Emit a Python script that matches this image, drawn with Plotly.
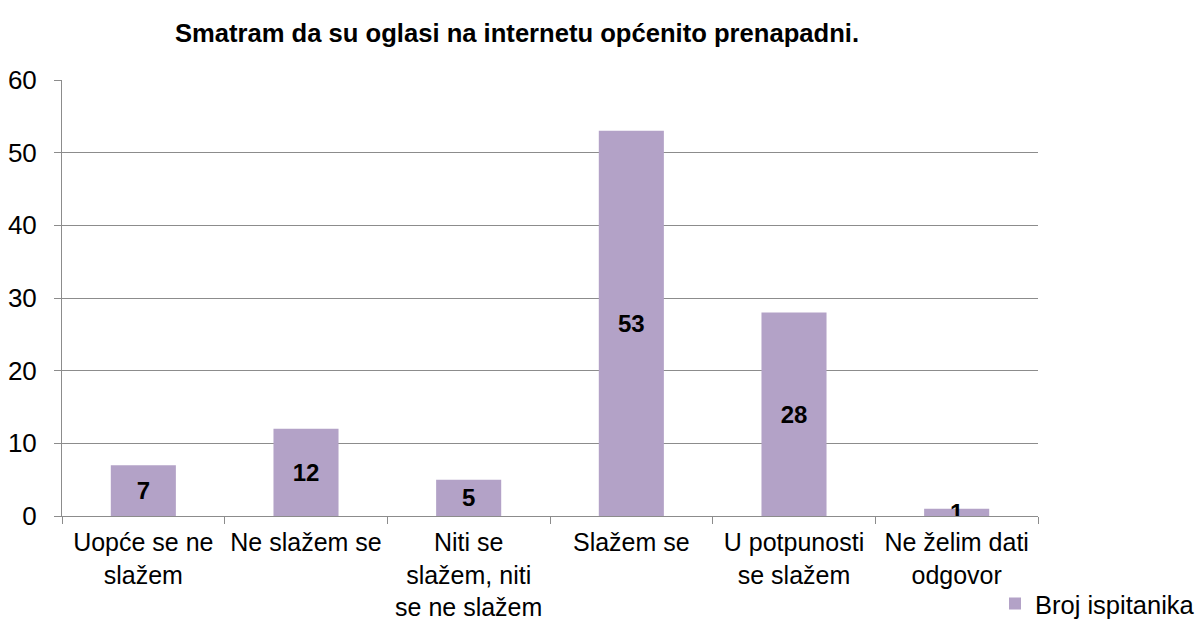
import plotly.graph_objects as go

kategorije = [
    "Uopće se ne<br>slažem",
    "Ne slažem se",
    "Niti se<br>slažem, niti<br>se ne slažem",
    "Slažem se",
    "U potpunosti<br>se slažem",
    "Ne želim dati<br>odgovor",
]
broj_ispitanika = [7, 12, 5, 53, 28, 1]
naslov = "Smatram da su oglasi na internetu općenito prenapadni."
boja = "#B3A2C7"
siva = "#8C8C8C"

# stranica ima 8px ruba, pa je figura za toliko manja
W, H = 1196, 613

fig = go.Figure()
fig.add_trace(go.Bar(
    x=kategorije,
    y=broj_ispitanika,
    name="Broj ispitanika",
    marker=dict(color=boja, line=dict(width=0)),
    text=broj_ispitanika,
    textposition="inside",
    insidetextanchor="middle",
    constraintext="none",
    textangle=0,
    textfont=dict(family="Liberation Sans, Arial", size=24, color="black", weight="bold"),
    width=0.4,
    showlegend=True,
))

fig.update_layout(
    width=W,
    height=H,
    plot_bgcolor="white",
    paper_bgcolor="white",
    margin=dict(l=54, r=166, t=72, b=105, autoexpand=False),
    font=dict(family="Liberation Sans, Arial", size=26, color="black"),
    title=dict(
        text="<b>" + naslov + "</b>",
        x=509 / W, xanchor="center", xref="container",
        y=1 - 25 / H, yanchor="middle", yref="container",
        font=dict(size=25.6),
    ),
    showlegend=True,
    legend=dict(
        x=(W - 58) / 976, xanchor="right",
        y=-88 / 436, yanchor="middle",
        font=dict(size=25.5),
        itemwidth=30,
        borderwidth=0,
        bgcolor="rgba(0,0,0,0)",
    ),
)
fig.update_yaxes(
    range=[0, 60],
    dtick=10,
    showgrid=True,
    gridcolor=siva,
    gridwidth=1,
    showline=True,
    linecolor=siva,
    linewidth=1,
    ticks="outside",
    ticklen=7,
    tickcolor=siva,
    ticklabelstandoff=12,
    zeroline=False,
    tickfont=dict(size=26),
    automargin=False,
)
fig.update_xaxes(
    showline=True,
    linecolor=siva,
    linewidth=1,
    ticks="outside",
    tickson="boundaries",
    ticklen=7,
    tickcolor=siva,
    tickangle=0,
    ticklabelstandoff=4,
    tickfont=dict(size=25),
    automargin=False,
)

fig.write_html("out.html")
